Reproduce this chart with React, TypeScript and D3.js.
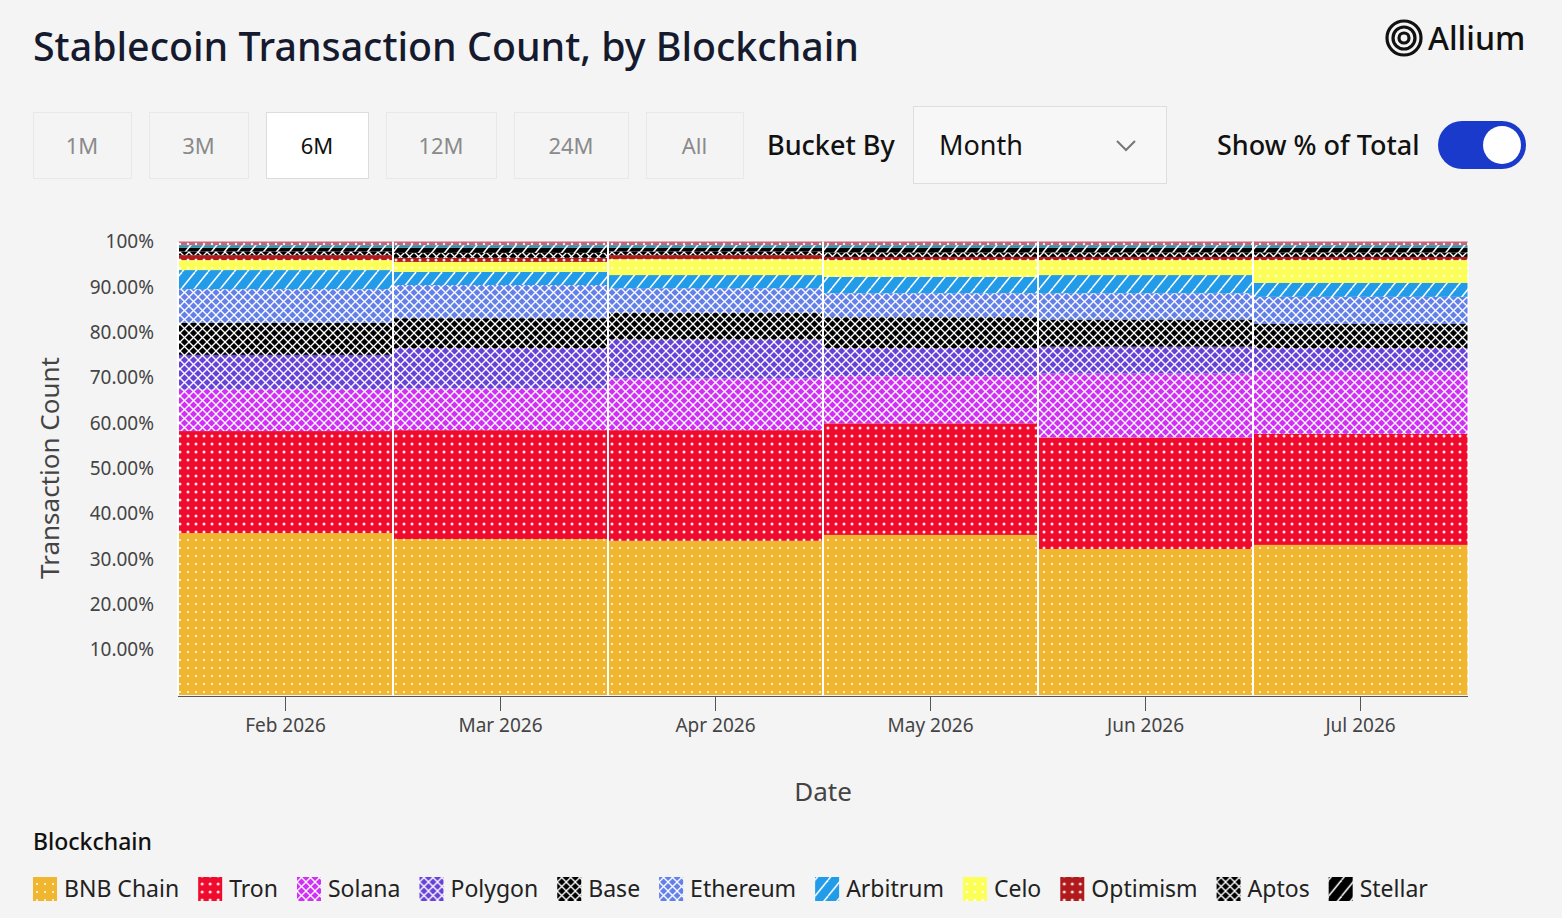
// @ts-nocheck
import React, { useEffect, useRef } from "react";
import * as d3 from "d3";

const months = ["Feb 2026", "Mar 2026", "Apr 2026", "May 2026", "Jun 2026", "Jul 2026"];
const chains = [
  "BNB Chain", "Tron", "Solana", "Polygon", "Base", "Ethereum",
  "Arbitrum", "Celo", "Optimism", "Aptos", "Stellar", "Avalanche", "Other",
];
// legend is cut off after Stellar in the original
const legendChains = chains.slice(0, 11);

// share of stablecoin transactions per month (%)
const bnbChain = [35.7, 34.4, 34.0, 35.3, 32.2, 33.1];
const tron = [22.5, 24.0, 24.4, 24.6, 24.6, 24.5];
const solana = [9.2, 9.2, 11.4, 10.4, 14.1, 13.9];
const polygon = [7.6, 8.9, 8.6, 6.2, 5.9, 5.0];
const base = [7.1, 6.6, 5.9, 6.8, 6.0, 5.3];
const ethereum = [7.4, 7.3, 5.4, 5.3, 5.8, 6.0];
const arbitrum = [4.2, 2.9, 2.9, 3.6, 4.0, 3.1];
const celo = [2.2, 2.2, 3.5, 3.7, 3.3, 5.0];
const optimism = [1.1, 0.9, 0.9, 0.7, 0.7, 0.7];
const aptos = [0.8, 1.1, 0.8, 1.0, 1.0, 1.0];
const stellar = [0.8, 1.1, 0.8, 1.0, 1.0, 1.0];
const avalanche = [0.6, 0.6, 0.6, 0.6, 0.6, 0.6];
const other = [0.8, 0.8, 0.8, 0.8, 0.8, 0.8];

const yTicks = [0.1, 0.2, 0.3, 0.4, 0.5, 0.6, 0.7, 0.8, 0.9, 1.0];
const timeRanges = ["1M", "3M", "6M", "12M", "24M", "All"];

const seriesValues = {
  "BNB Chain": bnbChain, Tron: tron, Solana: solana, Polygon: polygon, Base: base,
  Ethereum: ethereum, Arbitrum: arbitrum, Celo: celo, Optimism: optimism,
  Aptos: aptos, Stellar: stellar, Avalanche: avalanche, Other: other,
};

const seriesStyle = {
  "BNB Chain": { color: "#F1B62F", shape: ".", r: 1.1 },
  Tron: { color: "#EE0B2D", shape: ".", r: 1.5 },
  Solana: { color: "#D22FF5", shape: "x" },
  Polygon: { color: "#6842D8", shape: "x" },
  Base: { color: "#000000", shape: "x" },
  Ethereum: { color: "#6380E8", shape: "x" },
  Arbitrum: { color: "#229CE8", shape: "/" },
  Celo: { color: "#FCFF55", shape: ".", r: 1.3 },
  Optimism: { color: "#B01A1C", shape: ".", r: 1.5 },
  Aptos: { color: "#000000", shape: "x" },
  Stellar: { color: "#000000", shape: "/" },
  Avalanche: { color: "#2F93AE", shape: "/" },
  Other: { color: "#C86478", shape: "." },
};

const FONT = "'Noto Sans', 'Open Sans', sans-serif";

const App = () => {
  const svgRef = useRef();

  useEffect(() => {
    const W = 1562, H = 918;
    const svg = d3.select(svgRef.current);
    svg.selectAll("*").remove();
    svg.attr("width", W).attr("height", H).style("font-family", FONT);

    svg.append("rect").attr("width", W).attr("height", H).attr("fill", "#f4f4f4");

    // patterns
    const defs = svg.append("defs");
    chains.forEach((c, i) => {
      const st = seriesStyle[c];
      let w = 8, h = 8;
      if (st.shape === "x") { w = 9; h = 9; }
      if (st.shape === "/") { w = 13; h = 16; }
      const p = defs.append("pattern")
        .attr("id", `pat-${i}`)
        .attr("patternUnits", "userSpaceOnUse")
        .attr("width", w).attr("height", h);
      p.append("rect").attr("width", w).attr("height", h).attr("fill", st.color);
      if (st.shape === ".") {
        p.append("circle").attr("cx", w / 2).attr("cy", h / 2).attr("r", st.r || 1.2)
          .attr("fill", "#fff").attr("opacity", 0.9);
      } else if (st.shape === "x") {
        [[-1, -1, w + 1, h + 1], [w + 1, -1, -1, h + 1]].forEach(([x1, y1, x2, y2]) =>
          p.append("line").attr("x1", x1).attr("y1", y1).attr("x2", x2).attr("y2", y2)
            .attr("stroke", "#fff").attr("stroke-width", 1.3));
      } else {
        [[0, h, w, 0], [-w, h, 0, 0], [w, h, 2 * w, 0]].forEach(([x1, y1, x2, y2]) =>
          p.append("line").attr("x1", x1).attr("y1", y1).attr("x2", x2).attr("y2", y2)
            .attr("stroke", "#fff").attr("stroke-width", 1.5));
      }
    });

    // header
    svg.append("text").attr("x", 33).attr("y", 61)
      .attr("font-size", 39).attr("font-weight", 500).attr("fill", "#161a2e")
      .attr("textLength", 826).attr("lengthAdjust", "spacingAndGlyphs")
      .text("Stablecoin Transaction Count, by Blockchain");

    const logo = svg.append("g").attr("transform", "translate(1404,38)");
    [17, 11, 5].forEach((r) =>
      logo.append("circle").attr("r", r).attr("fill", "none").attr("stroke", "#111").attr("stroke-width", 3.2));
    svg.append("text").attr("x", 1428).attr("y", 50).attr("font-size", 32)
      .attr("font-weight", 500).attr("fill", "#111").text("Allium");

    // range buttons
    const btnX = [[33, 131], [149, 248], [266, 368], [386, 496], [514, 628], [646, 743]];
    timeRanges.forEach((t, i) => {
      const [x0, x1] = btnX[i];
      const sel = t === "6M";
      svg.append("rect").attr("x", x0 + 0.5).attr("y", 112.5).attr("width", x1 - x0).attr("height", 66)
        .attr("fill", sel ? "#fff" : "#f4f4f4").attr("stroke", sel ? "#dcdcdc" : "#e8e8e8");
      svg.append("text").attr("x", (x0 + x1) / 2).attr("y", 146).attr("dy", "0.35em")
        .attr("text-anchor", "middle").attr("font-size", 22)
        .attr("fill", sel ? "#111" : "#8a8a8a").text(t);
    });

    svg.append("text").attr("x", 767).attr("y", 146).attr("dy", "0.35em")
      .attr("font-size", 27).attr("font-weight", 500).attr("fill", "#111").text("Bucket By");
    svg.append("rect").attr("x", 913.5).attr("y", 106.5).attr("width", 253).attr("height", 77)
      .attr("fill", "#f7f7f7").attr("stroke", "#dedede");
    svg.append("text").attr("x", 939).attr("y", 146).attr("dy", "0.35em")
      .attr("font-size", 27).attr("fill", "#111").text("Month");
    svg.append("path").attr("d", "M1117,141 L1126,150 L1135,141")
      .attr("fill", "none").attr("stroke", "#777").attr("stroke-width", 2);

    svg.append("text").attr("x", 1217).attr("y", 146).attr("dy", "0.35em")
      .attr("font-size", 27).attr("font-weight", 500).attr("fill", "#111").text("Show % of Total");
    svg.append("rect").attr("x", 1438).attr("y", 121).attr("width", 88).attr("height", 48)
      .attr("rx", 24).attr("fill", "#1a3acc");
    svg.append("circle").attr("cx", 1502).attr("cy", 145).attr("r", 19).attr("fill", "#fff");

    // chart
    const left = 178, right = 1468, top = 241.5, bottom = 695;
    const x = d3.scaleBand().domain(months).range([left, right]).padding(0);
    const y = d3.scaleLinear().domain([0, 1]).range([bottom, top]);

    const rows = months.map((m, i) => {
      const r = { month: m };
      chains.forEach((c) => (r[c] = seriesValues[c][i]));
      return r;
    });
    const stack = d3.stack().keys(chains).offset(d3.stackOffsetExpand)(rows);

    const gBars = svg.append("g");
    stack.forEach((layer, li) => {
      gBars.selectAll(null).data(layer).enter().append("rect")
        .attr("x", (d) => x(d.data.month))
        .attr("y", (d) => y(d[1]))
        .attr("width", x.bandwidth())
        .attr("height", (d) => y(d[0]) - y(d[1]))
        .attr("fill", `url(#pat-${li})`);
    });
    // white separators between bars
    gBars.selectAll(null).data(months).enter().append("line")
      .attr("x1", (d) => x(d)).attr("x2", (d) => x(d))
      .attr("y1", top).attr("y2", bottom)
      .attr("stroke", "#fff").attr("stroke-width", 2);
    gBars.append("line").attr("x1", right).attr("x2", right).attr("y1", top).attr("y2", bottom)
      .attr("stroke", "#fff").attr("stroke-width", 1);

    // y axis labels
    svg.append("g").selectAll("text").data(yTicks).enter().append("text")
      .attr("x", 154).attr("y", (d) => y(d)).attr("dy", "0.35em")
      .attr("text-anchor", "end").attr("font-size", 19).attr("fill", "#444")
      .text((d) => (d === 1 ? "100%" : d3.format(".2%")(d)));

    // x axis
    const xAxis = svg.append("g").attr("transform", `translate(0,${bottom + 1})`)
      .call(d3.axisBottom(x).tickSize(15).tickPadding(8));
    xAxis.select(".domain").attr("stroke", "#555").attr("d", `M${left},0.5H${right}`);
    xAxis.selectAll(".tick line").attr("stroke", "#555");
    xAxis.selectAll(".tick text").attr("font-size", 19).attr("fill", "#444").attr("font-family", FONT);

    svg.append("text").attr("transform", "translate(50,468) rotate(-90)")
      .attr("text-anchor", "middle").attr("dy", "0.35em").attr("font-size", 26).attr("fill", "#444")
      .text("Transaction Count");
    svg.append("text").attr("x", 823).attr("y", 792).attr("dy", "0.35em")
      .attr("text-anchor", "middle").attr("font-size", 26).attr("fill", "#444").text("Date");

    // legend
    svg.append("text").attr("x", 33).attr("y", 842).attr("dy", "0.35em")
      .attr("font-size", 23).attr("font-weight", 500).attr("fill", "#111").text("Blockchain");
    let lx = 33;
    legendChains.forEach((c) => {
      const li = chains.indexOf(c);
      const g = svg.append("g").attr("transform", `translate(${lx},0)`);
      g.append("rect").attr("x", 0).attr("y", 877).attr("width", 24).attr("height", 24)
        .attr("fill", `url(#pat-${li})`);
      const t = g.append("text").attr("x", 31).attr("y", 889).attr("dy", "0.35em")
        .attr("font-size", 23).attr("fill", "#222").text(c);
      lx += 31 + t.node().getComputedTextLength() + 19;
    });
  }, []);

  return <svg ref={svgRef} style={{ position: "absolute", left: 0, top: 0, display: "block" }}></svg>;
};

export default App;
